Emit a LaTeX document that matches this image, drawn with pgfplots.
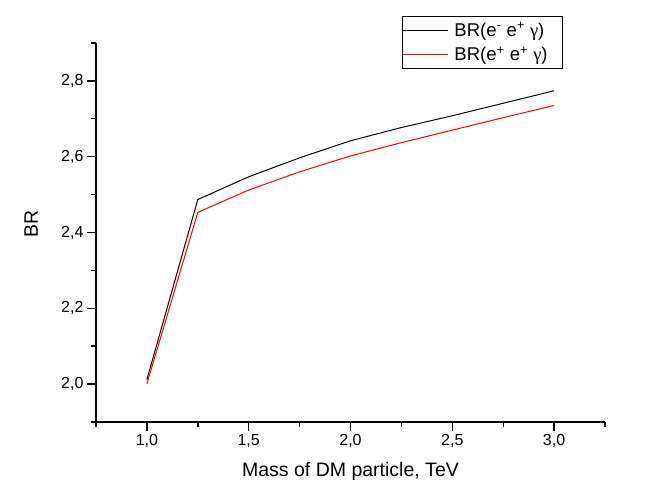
\documentclass[border=0pt]{standalone}
\usepackage{fontspec}
\setmainfont{Liberation Sans}
\newfontfamily\seriff{Liberation Serif}
\usepackage{pgfplots}
\pgfplotsset{compat=1.18}
\begin{document}
\begin{tikzpicture}[x=1bp,y=1bp]
\path[use as bounding box] (0,0) rectangle (658,500);
\begin{axis}[
  at={(96bp,78bp)}, anchor=south west,
  scale only axis, width=509bp, height=379bp,
  xmin=0.75, xmax=3.25, ymin=1.9, ymax=2.9,
  axis lines*=left,
  axis line style={line width=1.6bp},
  xtick={1,1.5,...,3}, minor xtick={0.75,1.25,...,3.25},
  ytick={2.0,2.2,2.4,2.6,2.8}, minor ytick={1.9,2.1,2.3,2.5,2.7,2.9},
  tick align=outside,
  major tick length=9bp, minor tick length=5bp,
  every tick/.style={line width=1.4bp, black},
  tick label style={font=\fontsize{16bp}{19bp}\selectfont},
  /pgf/number format/assume math mode=true,
  /pgf/number format/.cd, use comma, fixed, fixed zerofill, precision=1,
  /pgfplots/.cd,
  xlabel={Mass of DM particle, TeV},
  ylabel={BR},
  label style={font=\fontsize{19.5bp}{22bp}\selectfont},
  xlabel style={at={(axis description cs:0.5,-0.145)}, anchor=base},
  ylabel style={at={(axis description cs:-0.114,0.522)}, anchor=base},
  legend style={at={(axis description cs:0.9175,1.071)}, anchor=north east,
    draw=black, line width=0.8bp, font=\fontsize{18.5bp}{21bp}\selectfont,
    inner xsep=0pt, inner ysep=6bp, row sep=9bp, column sep=6bp,
    nodes={inner sep=0pt},
    cells={anchor=west}},
  legend image code/.code={\draw[#1, line width=1bp] (0bp,0bp) -- (45bp,0bp);},
]
\addplot[black, line width=1bp] coordinates {
(1.0,2.012)(1.25,2.487)(1.5,2.547)(1.75,2.597)(2.0,2.642)(2.25,2.677)(2.5,2.708)(2.75,2.741)(3.0,2.774)};
\addlegendentry{BR(e\textsuperscript{-} e\textsuperscript{+} {\seriff γ})\hspace*{15bp}}
\addplot[red, line width=1bp] coordinates {
(1.0,2.001)(1.25,2.453)(1.5,2.512)(1.75,2.560)(2.0,2.602)(2.25,2.637)(2.5,2.670)(2.75,2.703)(3.0,2.735)};
\addlegendentry{BR(e\textsuperscript{+} e\textsuperscript{+} {\seriff γ})\hspace*{15bp}}
\end{axis}
\end{tikzpicture}
\end{document}
